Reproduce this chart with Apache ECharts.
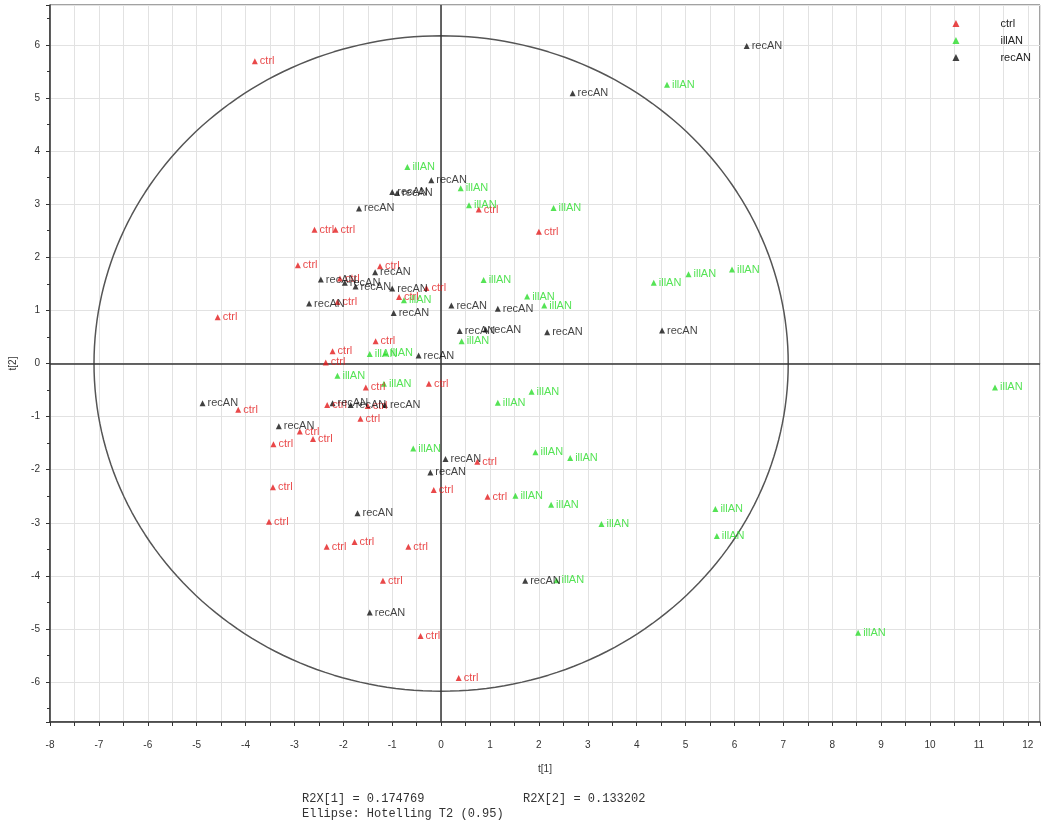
<!DOCTYPE html>
<html>
<head>
<meta charset="utf-8">
<script src="https://cdn.jsdelivr.net/npm/echarts@6/dist/echarts.min.js"></script>
<style>
  html, body { margin: 0; padding: 0; background: #fff; }
  #main { width: 1050px; height: 833px; }
</style>
</head>
<body>
<div id="main"></div>
<script>
// scores, [t1, t2]
var ctrlPts = [
  [-3.81, 5.69], [-2.59, 2.52], [-2.16, 2.52], [-2.93, 1.85], [-1.25, 1.83],
  [-2.07, 1.60], [-0.30, 1.42], [-0.86, 1.25], [-2.12, 1.16], [-4.57, 0.87],
  [-1.34, 0.42], [-2.22, 0.23], [-2.36, 0.02], [0.77, 2.90], [2.00, 2.48],
  [-1.54, -0.45], [-0.25, -0.38], [-4.15, -0.87], [-2.33, -0.78], [-1.50, -0.80],
  [-1.65, -1.04], [-2.89, -1.28], [-2.62, -1.42], [-3.43, -1.52], [-0.15, -2.38],
  [-3.44, -2.33], [-3.52, -2.98], [-2.34, -3.45], [-1.77, -3.36], [-0.67, -3.45],
  [-1.19, -4.09], [0.74, -1.85], [0.95, -2.51], [-0.42, -5.13], [0.36, -5.92]
];
var illPts = [
  [-0.69, 3.70], [0.40, 3.30], [0.57, 2.98], [2.30, 2.93], [0.87, 1.57],
  [1.76, 1.26], [2.11, 1.09], [-0.76, 1.19], [0.42, 0.42], [-1.46, 0.18],
  [-1.14, 0.19], [4.35, 1.52], [5.06, 1.68], [5.95, 1.77], [4.62, 5.25],
  [-2.12, -0.23], [-1.17, -0.38], [1.85, -0.53], [1.16, -0.74], [-0.57, -1.60],
  [1.93, -1.67], [2.64, -1.78], [1.52, -2.49], [2.25, -2.66], [3.28, -3.02],
  [5.61, -2.74], [5.64, -3.25], [2.36, -4.08], [11.33, -0.45], [8.53, -5.07]
];
var recPts = [
  [6.25, 5.98], [2.69, 5.09], [-0.20, 3.45], [-1.00, 3.23], [-0.90, 3.21],
  [-1.68, 2.92], [-1.35, 1.72], [-2.46, 1.58], [-1.97, 1.52], [-1.75, 1.45],
  [-1.00, 1.41], [-2.70, 1.13], [-0.97, 0.95], [0.21, 1.09], [1.16, 1.03],
  [0.38, 0.61], [0.91, 0.64], [2.17, 0.59], [4.52, 0.62], [-0.46, 0.15],
  [-4.88, -0.75], [-2.22, -0.75], [-1.85, -0.78], [-1.15, -0.78], [-3.32, -1.18],
  [0.09, -1.80], [-0.22, -2.05], [-1.71, -2.82], [1.72, -4.09], [-1.46, -4.69]
];

var groupNames = ['ctrl', 'illAN', 'recAN'];
var groupColors = ['#e31a1c', '#2bdc2b', '#111111'];

// Hotelling T2 (0.95) ellipse radii
var ellipseA = 7.1;
var ellipseB = 6.17;

var ellipse = [];
for (var i = 0; i <= 240; i++) {
  var a = i / 240 * Math.PI * 2;
  ellipse.push([ellipseA * Math.cos(a), ellipseB * Math.sin(a)]);
}

function scatter(name, pts, color) {
  return {
    name: name,
    type: 'scatter',
    symbol: 'triangle',
    symbolSize: 6,
    z: 5,
    itemStyle: { color: color },
    label: {
      show: true,
      position: 'right',
      distance: 2,
      formatter: name,
      color: color,
      fontSize: 11,
      fontFamily: 'Liberation Sans'
    },
    data: pts
  };
}

var chart = echarts.init(document.getElementById('main'));

var option = {
  animation: false,
  backgroundColor: '#fff',
  textStyle: { fontFamily: 'Liberation Sans' },
  legend: {
    data: groupNames,
    orient: 'vertical',
    right: 14,
    top: 13,
    itemWidth: 7,
    itemHeight: 7,
    itemGap: 6,
    textStyle: { fontSize: 11, color: '#222', padding: [0, 0, 0, 36] }
  },
  grid: {
    left: 49,
    right: 10,
    top: 5,
    bottom: 111,
    show: true,
    borderColor: '#444',
    borderWidth: 1
  },
  xAxis: {
    type: 'value',
    min: -8,
    max: 12.25,
    interval: 0.5,
    name: 't[1]',
    nameLocation: 'middle',
    nameGap: 42,
    nameTextStyle: { fontSize: 10, color: '#333' },
    axisLine: { onZero: false, lineStyle: { color: '#333', width: 1.5 } },
    axisTick: { length: 4, inside: false, lineStyle: { color: '#333' } },
    axisLabel: {
      fontSize: 10,
      color: '#333',
      margin: 18,
      formatter: function (v) { return v % 1 === 0 ? String(v) : ''; }
    },
    splitLine: { show: true, lineStyle: { color: '#e2e2e2', width: 1 } }
  },
  yAxis: {
    type: 'value',
    min: -6.75,
    max: 6.75,
    splitNumber: 13,
    name: 't[2]',
    nameLocation: 'middle',
    nameGap: 32,
    nameRotate: 90,
    nameTextStyle: { fontSize: 10, color: '#333' },
    axisLine: { onZero: false, lineStyle: { color: '#333', width: 1.5 } },
    axisTick: { length: 4, lineStyle: { color: '#333' } },
    minorTick: { show: true, splitNumber: 2, length: 3, lineStyle: { color: '#333' } },
    axisLabel: {
      fontSize: 10,
      color: '#333',
      margin: 10,
      formatter: function (v) { return v % 1 === 0 ? String(v) : ''; }
    },
    splitLine: { show: true, lineStyle: { color: '#e2e2e2', width: 1 } }
  },
  series: [
    {
      name: 'ellipse',
      type: 'line',
      data: ellipse,
      showSymbol: false,
      silent: true,
      z: 2,
      lineStyle: { color: '#555', width: 1.5 },
      markLine: {
        silent: true,
        symbol: 'none',
        label: { show: false },
        lineStyle: { color: '#333', width: 1.5, type: 'solid' },
        data: [{ xAxis: 0 }, { yAxis: 0 }]
      }
    },
    scatter(groupNames[0], ctrlPts, groupColors[0]),
    scatter(groupNames[1], illPts, groupColors[1]),
    scatter(groupNames[2], recPts, groupColors[2])
  ],
  graphic: [
    {
      type: 'text', left: 302, top: 793,
      style: { text: 'R2X[1] = 0.174769', font: '12px "Liberation Mono"', fill: '#333' }
    },
    {
      type: 'text', left: 523, top: 793,
      style: { text: 'R2X[2] = 0.133202', font: '12px "Liberation Mono"', fill: '#333' }
    },
    {
      type: 'text', left: 302, top: 808,
      style: { text: 'Ellipse: Hotelling T2 (0.95)', font: '12px "Liberation Mono"', fill: '#333' }
    }
  ]
};

chart.setOption(option);
</script>
</body>
</html>
